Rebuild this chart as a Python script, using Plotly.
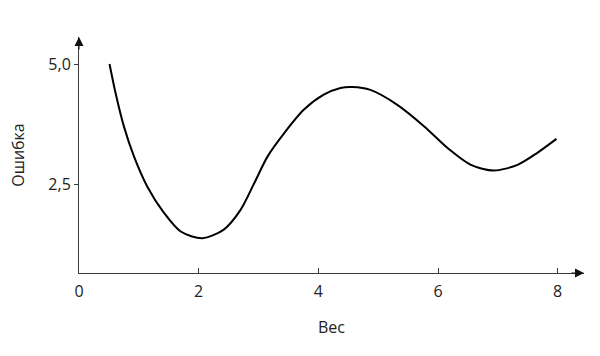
import plotly.graph_objects as go

weight = [0.51, 0.61, 0.75, 0.92, 1.14, 1.42, 1.70, 2.06, 2.42, 2.70, 2.93, 3.15, 3.43,
          3.76, 4.09, 4.37, 4.57, 4.87, 5.32, 5.77, 6.16, 6.55, 6.93, 7.33, 7.66, 7.98]
error = [5.0, 4.40, 3.70, 3.07, 2.45, 1.90, 1.51, 1.37, 1.55, 1.96, 2.52, 3.07, 3.56,
         4.05, 4.36, 4.50, 4.52, 4.46, 4.15, 3.70, 3.25, 2.90, 2.78, 2.90, 3.15, 3.44]

x_ticks = [0, 2, 4, 6, 8]
y_ticks = [2.5, 5.0]
x_title = "Вес"
y_title = "Ошибка"

FONT = "Open Sans"
AX = "#3a3a3a"

fig = go.Figure()
fig.add_trace(go.Scatter(x=weight, y=error, mode="lines",
                         line=dict(color="black", width=2, shape="spline", smoothing=0.8),
                         showlegend=False, hoverinfo="skip"))

fig.update_layout(
    width=600, height=356,
    margin=dict(l=79, r=16, t=37, b=83),
    paper_bgcolor="white", plot_bgcolor="white",
    separators=", ",
    font=dict(family=FONT, size=16, color="#222"),
    xaxis=dict(range=[0, 8.44], tickvals=x_ticks, showgrid=False, zeroline=False,
               showline=True, linecolor=AX, linewidth=1,
               ticks="inside", ticklen=5, tickcolor=AX, tickwidth=1,
               ticklabelstandoff=4,
               tickfont=dict(size=16),
               title=dict(text=x_title, font=dict(size=16), standoff=20)),
    yaxis=dict(range=[0.646, 5.5625], tickvals=y_ticks, tickformat=".1f",
               showgrid=False, zeroline=False,
               showline=True, linecolor=AX, linewidth=1,
               ticks="outside", ticklen=4, tickcolor=AX, tickwidth=1,
               tickfont=dict(size=16),
               title=dict(text=y_title, font=dict(size=16), standoff=19)),
)

# arrowheads at axis ends
fig.add_annotation(xref="paper", yref="paper", x=1, y=0, ax=-14, ay=0,
                   axref="pixel", ayref="pixel", showarrow=True, arrowhead=2,
                   arrowsize=1.8, arrowwidth=1, arrowcolor="#111", text="")
fig.add_annotation(xref="paper", yref="paper", x=0, y=1, ax=0, ay=14,
                   axref="pixel", ayref="pixel", showarrow=True, arrowhead=2,
                   arrowsize=1.8, arrowwidth=1, arrowcolor="#111", text="")

fig.write_html("out.html")
